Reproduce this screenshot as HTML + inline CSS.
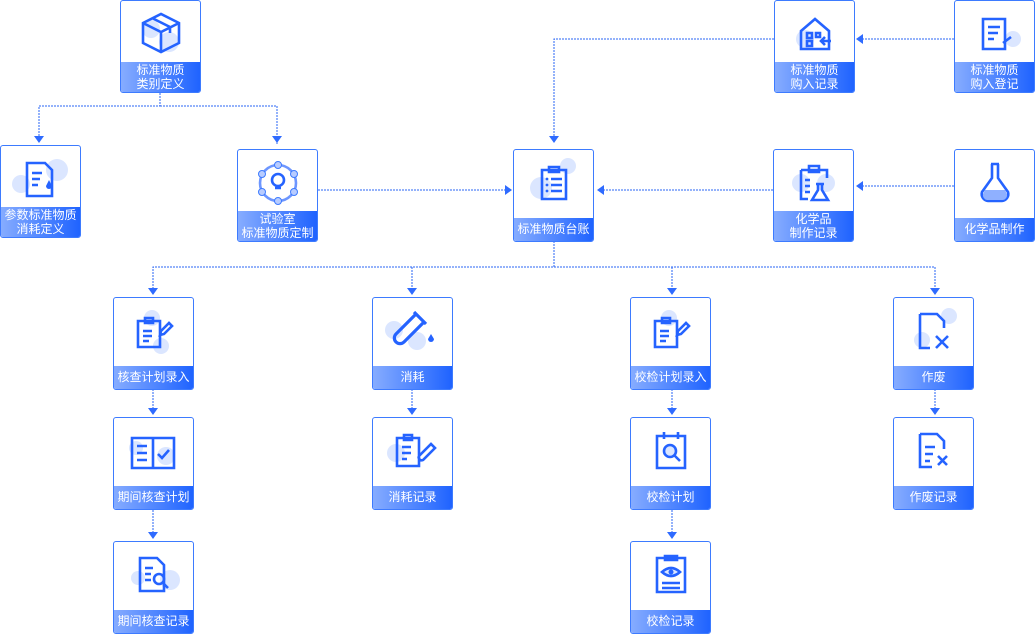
<!DOCTYPE html>
<html><head><meta charset="utf-8"><style>
body{margin:0;width:1035px;height:634px;background:#fff;position:relative;overflow:hidden;font-family:"Liberation Sans","Noto Sans CJK SC",sans-serif}
.n{position:absolute;width:79px;height:91px;border:1px solid #3d7bff;border-radius:3px;background:#fff;overflow:hidden}
.n .ic{position:absolute;left:0;top:0;width:79px;height:66px}
.n .ic path,.n .ic circle[stroke]{stroke-width:2.6}
.n .lb{position:absolute;left:0;right:0;bottom:0;height:23px;background:linear-gradient(90deg,#86acff,#1f63ff);color:#fff;font-size:12px;line-height:23px;text-align:center;white-space:nowrap}
.n .lb.t{height:30px;line-height:14px;padding-top:1px;box-sizing:border-box}
svg.c{position:absolute;left:0;top:0}
</style></head><body>
<svg class="c" width="1035" height="634">
<g stroke="#2a64f5" stroke-width="1" stroke-dasharray="2,1" fill="none">
<path d="M160 93V106H39V140M160 106H277V144"/>
<path d="M318 190H505"/>
<path d="M774 39H554V142"/>
<path d="M954 39H862"/>
<path d="M773 190H603"/>
<path d="M954 186H862"/>
<path d="M554 241V267H153V292M554 267H935V292M412 267V292M672 267V292"/>
<path d="M153 389V412M412 389V412M672 389V412M935 389V412M153 510V536M672 510V536"/>
</g>
<g fill="#2f6bff">
<path d="M34 136h10l-5 7z"/><path d="M272 136h10l-5 7z"/>
<path d="M549 136h10l-5 7z"/>
<path d="M505 185v10l7-5z"/>
<path d="M604 185v10l-7-5z"/>
<path d="M863 34v10l-7-5z"/><path d="M863 181v10l-7-5z"/>
<path d="M148 288h10l-5 7z"/><path d="M407 288h10l-5 7z"/><path d="M667 288h10l-5 7z"/><path d="M930 288h10l-5 7z"/>
<path d="M148 408h10l-5 7z"/><path d="M407 408h10l-5 7z"/><path d="M667 408h10l-5 7z"/><path d="M930 408h10l-5 7z"/>
<path d="M148 532h10l-5 7z"/><path d="M667 532h10l-5 7z"/>
</g>
</svg>

<div class="n" style="left:120px;top:0px"><svg class="ic"><circle cx="30" cy="28" r="9" fill="#dbe6ff"/><circle cx="48" cy="41" r="10" fill="#dbe6ff"/><path d="M22 22l18-9 18 9v20l-18 9-18-9z M22 22l18 9 18-9 M40 31v20 M31 17l18 9v6" stroke="#2563ff" fill="none"/></svg><div class="lb t">标准物质<br>类别定义</div></div>

<div class="n" style="left:0px;top:145px"><svg class="ic"><circle cx="20" cy="38" r="9" fill="#dbe6ff"/><circle cx="56" cy="24" r="11" fill="#dbe6ff"/><path d="M26 17h18l7 7v26H26z M31 27h10 M31 33h8 M31 39h6" stroke="#2563ff" fill="none"/><path d="M48 34l3 6a3 3 0 1 1-6 0z" fill="#2563ff"/></svg><div class="lb t">参数标准物质<br>消耗定义</div></div>

<div class="n" style="left:237px;top:149px"><svg class="ic"><circle cx="40" cy="33" r="18" stroke="#6d96ff" stroke-width="1.5" fill="none"/><g fill="#b8ccff" stroke="#3d7bff"><circle cx="40" cy="15" r="3.5"/><circle cx="56" cy="24" r="3.5"/><circle cx="56" cy="42" r="3.5"/><circle cx="40" cy="51" r="3.5"/><circle cx="24" cy="42" r="3.5"/><circle cx="24" cy="24" r="3.5"/></g><circle cx="40" cy="30" r="6" stroke="#2563ff" fill="none"/><path d="M37 38h6" stroke="#2563ff"/></svg><div class="lb t">试验室<br>标准物质定制</div></div>

<div class="n" style="left:513px;top:149px"><svg class="ic"><circle cx="27" cy="38" r="11" fill="#dbe6ff"/><circle cx="54" cy="16" r="8" fill="#dbe6ff"/><path d="M28 20h24v29H28z M35 17h10v5H35z M37 29h11 M37 35h11 M37 41h11" stroke="#2563ff" fill="none"/><g fill="#2563ff"><circle cx="33" cy="29" r="1.4"/><circle cx="33" cy="35" r="1.4"/><circle cx="33" cy="41" r="1.4"/></g></svg><div class="lb">标准物质台账</div></div>

<div class="n" style="left:774px;top:0px"><svg class="ic"><circle cx="30" cy="38" r="9" fill="#dbe6ff"/><path d="M26 30l14-12 14 12v18H26z M32 32h5v5h-5z M32 40h5v5h-5z M41 32h4v4h-4z M56 40h-9 M50 36l-4 4 4 4" stroke="#2563ff" fill="none"/></svg><div class="lb t">标准物质<br>购入记录</div></div>

<div class="n" style="left:954px;top:0px"><svg class="ic"><circle cx="58" cy="38" r="8" fill="#dbe6ff"/><path d="M28 18h22v30H28z M33 26h12 M33 32h10 M33 38h6 M48 42l8-6" stroke="#2563ff" fill="none"/></svg><div class="lb t">标准物质<br>购入登记</div></div>

<div class="n" style="left:773px;top:149px"><svg class="ic"><circle cx="27" cy="33" r="9" fill="#dbe6ff"/><circle cx="52" cy="33" r="9" fill="#dbe6ff"/><path d="M27 20h26v8 M27 20v29h7 M35 16h10v6H35z M31 30h5 M31 36h5 M31 42h5 M42 34h8 M44 34v6l-6 10h16l-6-10v-6" stroke="#2563ff" fill="none"/></svg><div class="lb t">化学品<br>制作记录</div></div>

<div class="n" style="left:954px;top:149px"><svg class="ic"><path d="M36 14h8 M37 14v14l-10 14a7 7 0 0 0 6 9h14a7 7 0 0 0 6-9L43 28V14" stroke="#2563ff" fill="none"/><path d="M30 40h20l2 4a5 5 0 0 1-4 6H32a5 5 0 0 1-4-6z" fill="#8fb0ff"/></svg><div class="lb">化学品制作</div></div>

<div class="n" style="left:113px;top:297px"><svg class="ic"><circle cx="38" cy="20" r="8" fill="#dbe6ff"/><circle cx="47" cy="48" r="8" fill="#dbe6ff"/><path d="M24 23h22v26H24z M31 20h8v5h-8z M29 33h9 M29 38h9 M29 43h6 M47 33l8-8 3 3-8 8-4 1z" stroke="#2563ff" fill="none"/></svg><div class="lb">核查计划录入</div></div>

<div class="n" style="left:372px;top:297px"><svg class="ic"><circle cx="21" cy="32" r="9" fill="#dbe6ff"/><circle cx="44" cy="43" r="9" fill="#dbe6ff"/><path d="M43 16l8 8-20 20a5.5 5.5 0 0 1-8-8z M41 14l12 12" stroke="#2563ff" style="stroke-width:3.2" fill="none"/><path d="M58 36l3 5a3 3 0 1 1-6 0z" fill="#2563ff"/></svg><div class="lb">消耗</div></div>

<div class="n" style="left:630px;top:297px"><svg class="ic"><circle cx="38" cy="20" r="8" fill="#dbe6ff"/><path d="M24 23h22v26H24z M31 20h8v5h-8z M29 33h9 M29 38h9 M29 43h6 M47 33l8-8 3 3-8 8-4 1z" stroke="#2563ff" fill="none"/></svg><div class="lb">校检计划录入</div></div>

<div class="n" style="left:893px;top:297px"><svg class="ic"><circle cx="55" cy="18" r="8" fill="#dbe6ff"/><circle cx="28" cy="42" r="8" fill="#dbe6ff"/><path d="M26 16h17l7 7v7 M26 16v34h10 M42 38l12 12 M54 38l-12 12" stroke="#2563ff" fill="none"/></svg><div class="lb">作废</div></div>

<div class="n" style="left:113px;top:417px"><svg class="ic"><circle cx="22" cy="30" r="7" fill="#dbe6ff"/><circle cx="52" cy="38" r="9" fill="#dbe6ff"/><path d="M18 20h42v30H18z M39 20v30 M23 28h10 M23 35h10 M23 42h10 M44 36l4 4 7-8" stroke="#2563ff" fill="none"/></svg><div class="lb">期间核查计划</div></div>

<div class="n" style="left:372px;top:417px"><svg class="ic"><circle cx="23" cy="35" r="9" fill="#dbe6ff"/><path d="M24 20h22v28H24z M31 17h8v5h-8z M29 29h9 M29 35h9 M29 41h5 M62 30l-12 12a3 3 0 0 1-4-4l12-12z" stroke="#2563ff" fill="none"/></svg><div class="lb">消耗记录</div></div>

<div class="n" style="left:630px;top:417px"><svg class="ic"><path d="M26 18h28v32H26z M33 14v7 M47 14v7" stroke="#2563ff" fill="none"/><circle cx="39" cy="33" r="6" stroke="#2563ff" fill="#dbe6ff"/><path d="M43 37l6 6" stroke="#2563ff"/></svg><div class="lb">校检计划</div></div>

<div class="n" style="left:893px;top:417px"><svg class="ic"><path d="M26 16h17l7 7v8 M26 16v33h12 M31 29h10 M31 36h8 M31 43h5 M44 38l9 9 M53 38l-9 9" stroke="#2563ff" fill="none"/></svg><div class="lb">作废记录</div></div>

<div class="n" style="left:113px;top:541px"><svg class="ic"><circle cx="56" cy="38" r="10" fill="#dbe6ff"/><circle cx="24" cy="36" r="7" fill="#dbe6ff"/><path d="M26 16h17l7 7v26H26z M31 26h8 M31 32h6 M31 38h6" stroke="#2563ff" fill="none"/><circle cx="45" cy="37" r="5" stroke="#2563ff" fill="none"/><path d="M49 41l5 5" stroke="#2563ff"/></svg><div class="lb">期间核查记录</div></div>

<div class="n" style="left:630px;top:541px"><svg class="ic"><path d="M26 16h28v34H26z M34 14h12v4H34z M31 41h18 M31 46h18" stroke="#2563ff" fill="none"/><path d="M31 30q9-8 18 0q-9 8-18 0z" stroke="#2563ff" fill="#dbe6ff"/><circle cx="40" cy="30" r="2.5" fill="#2563ff"/></svg><div class="lb">校检记录</div></div>
</body></html>
